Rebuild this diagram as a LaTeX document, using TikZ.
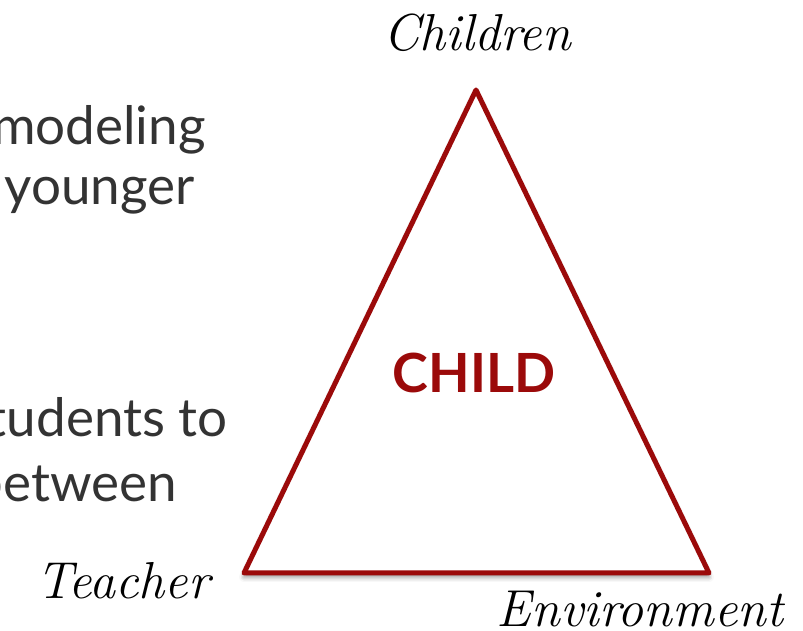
\documentclass[tikz,border=0pt]{standalone}
\usepackage{fontspec}
\setsansfont{Lato}
\usetikzlibrary{shadows.blur}
\definecolor{childred}{HTML}{9B0A0A}
\definecolor{textgray}{HTML}{333333}
\begin{document}
\begin{tikzpicture}[x=1pt,y=1pt,
  side/.style={text=textgray,font=\sffamily\fontsize{53}{60}\selectfont,inner sep=0,anchor=base east},
  hand/.style={font=\itshape\fontsize{52}{60}\selectfont,inner sep=0}]
\useasboundingbox (0,0) rectangle (803,631);
\clip (0,0) rectangle (803,631);
\node[side] (modeling) at (206,486) {modeling};
\node[side] (younger) at (195,426) {younger};
\node[side] (students) at (228,194) {students to};
\node[side] (between) at (177,129) {between};
\coordinate (top) at (476,541);
\coordinate (left) at (244,58);
\coordinate (right) at (709,58);
\fill[white,blur shadow={shadow xshift=0pt,shadow yshift=-4pt,shadow blur radius=5pt,shadow opacity=45}] (top)--(left)--(right)--cycle;
\draw[childred,line width=5pt,line join=round] (top)--(left)--(right)--cycle;
\node[text=childred,font=\sffamily\bfseries\fontsize{54}{60}\selectfont] (child) at (474,258) {CHILD};
\node[hand] (children) at (477,598) {Children};
\node[hand] (teacher) at (123,50) {Teacher};
\node[hand] (environment) at (640,22) {Environment};
\end{tikzpicture}
\end{document}
